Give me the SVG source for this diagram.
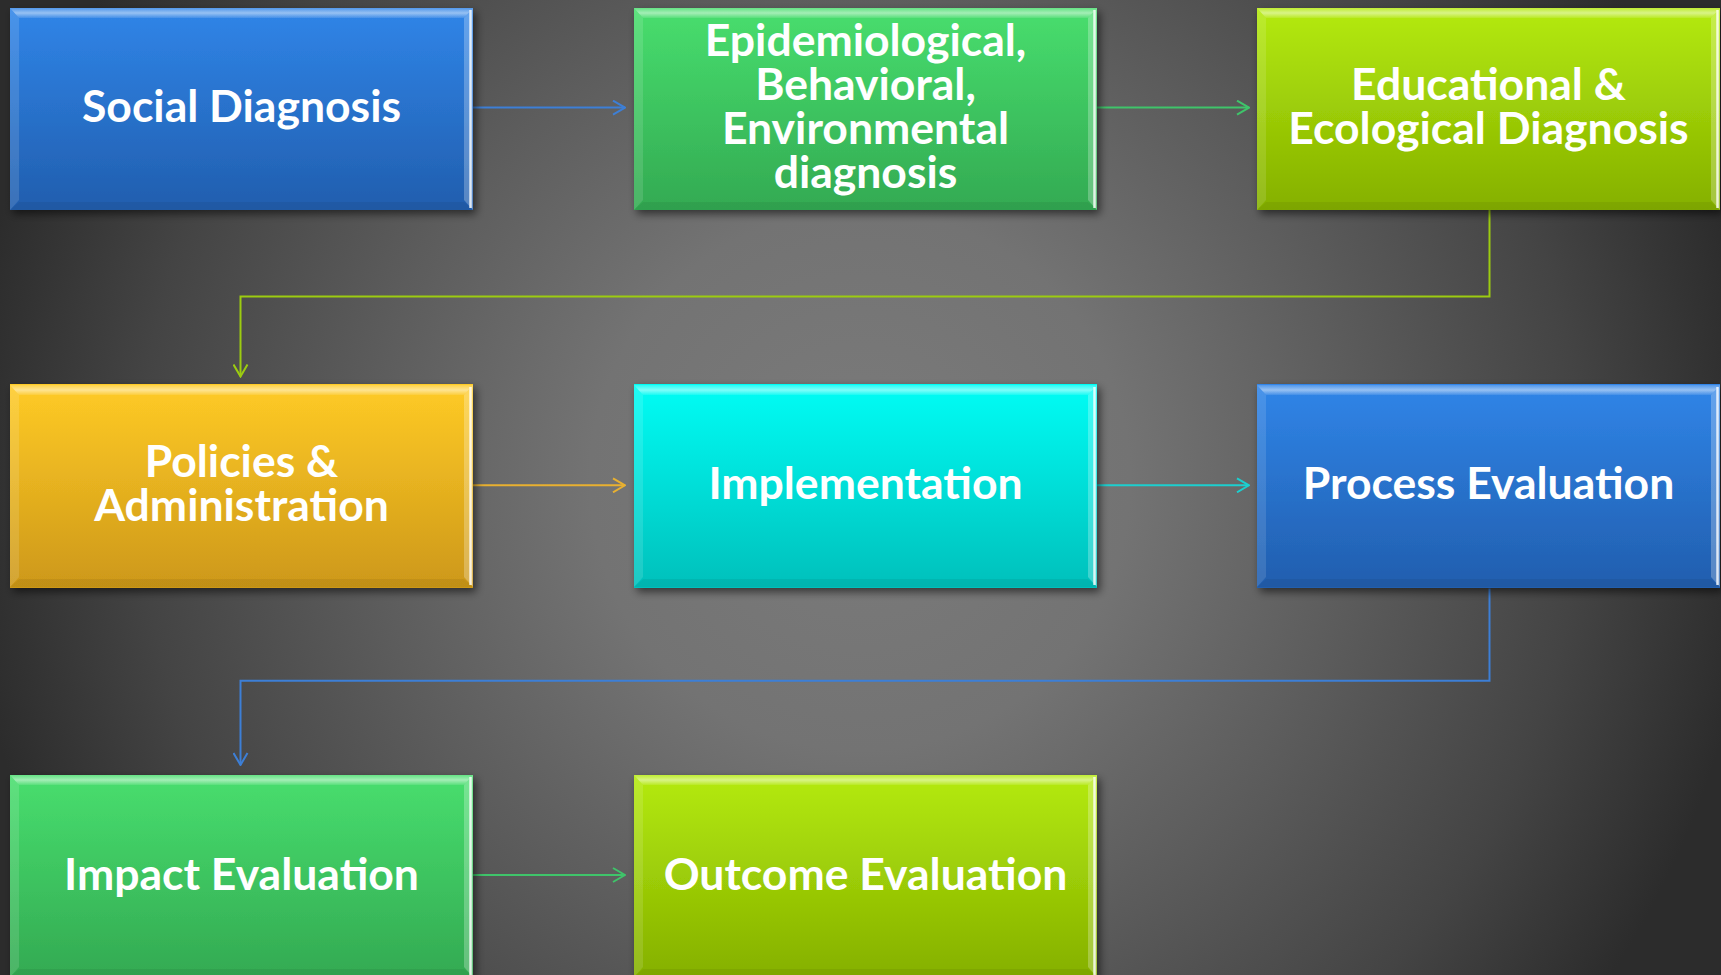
<svg xmlns="http://www.w3.org/2000/svg" xmlns:xlink="http://www.w3.org/1999/xlink" width="1721" height="975" viewBox="0 0 1721 975">
<style>
.lbl{font-family:"Lato","Noto Sans","Liberation Sans",sans-serif;font-weight:700;font-size:44.5px;fill:#ffffff;text-anchor:middle}
.con{fill:none;stroke-width:2}
</style>
<defs>
<radialGradient id="bg" gradientUnits="userSpaceOnUse" cx="860" cy="480" r="900">
<stop offset="0" stop-color="#7b7b7b"/>
<stop offset="0.3" stop-color="#737373"/>
<stop offset="0.55" stop-color="#5c5c5c"/>
<stop offset="0.8" stop-color="#444444"/>
<stop offset="1" stop-color="#2c2c2c"/>
</radialGradient>
<linearGradient id="gBlue" x1="0" y1="0" x2="0" y2="1"><stop offset="0" stop-color="#3085e8"/><stop offset="1" stop-color="#215eae"/></linearGradient>
<linearGradient id="gGreen" x1="0" y1="0" x2="0" y2="1"><stop offset="0" stop-color="#48de6e"/><stop offset="1" stop-color="#33aa52"/></linearGradient>
<linearGradient id="gLime" x1="0" y1="0" x2="0" y2="1"><stop offset="0" stop-color="#b4ea0e"/><stop offset="1" stop-color="#85b000"/></linearGradient>
<linearGradient id="gOrange" x1="0" y1="0" x2="0" y2="1"><stop offset="0" stop-color="#ffcb26"/><stop offset="1" stop-color="#cd9819"/></linearGradient>
<linearGradient id="gCyan" x1="0" y1="0" x2="0" y2="1"><stop offset="0" stop-color="#00fdf5"/><stop offset="1" stop-color="#00c0bb"/></linearGradient>
<linearGradient id="topHi" x1="0" y1="0" x2="0" y2="1"><stop offset="0" stop-color="#ffffff" stop-opacity="0.15"/><stop offset="0.5" stop-color="#ffffff" stop-opacity="0.5"/><stop offset="1" stop-color="#ffffff" stop-opacity="0.1"/></linearGradient>
<filter id="sh" x="-10%" y="-10%" width="120%" height="130%">
<feDropShadow dx="3" dy="4" stdDeviation="4" flood-color="#000000" flood-opacity="0.55"/>
</filter>
<g id="bevel">
<polygon points="0,0 463,0 454,10 9,10" fill="url(#topHi)"/>
<polygon points="0,0 9,10 9,192 0,202" fill="#ffffff" fill-opacity="0.12"/>
<polygon points="463,0 463,202 454,192 454,10" fill="#ffffff" fill-opacity="0.25"/>
<polygon points="0,202 463,202 454,194 9,194" fill="#000000" fill-opacity="0.06"/>
<line x1="460.5" y1="2" x2="460.5" y2="200" stroke="#ffffff" stroke-opacity="0.8" stroke-width="2.5"/>
</g>
<marker id="mBlue" viewBox="0 0 14 16" markerWidth="14" markerHeight="16" refX="13" refY="8" orient="auto" markerUnits="userSpaceOnUse"><path d="M1,1 L13,8 L1,15" fill="none" stroke="#3d7fd6" stroke-width="2"/></marker>
<marker id="mGreen" viewBox="0 0 14 16" markerWidth="14" markerHeight="16" refX="13" refY="8" orient="auto" markerUnits="userSpaceOnUse"><path d="M1,1 L13,8 L1,15" fill="none" stroke="#3fc46a" stroke-width="2"/></marker>
<marker id="mLime" viewBox="0 0 14 16" markerWidth="14" markerHeight="16" refX="13" refY="8" orient="auto" markerUnits="userSpaceOnUse"><path d="M1,1 L13,8 L1,15" fill="none" stroke="#9ccc10" stroke-width="2"/></marker>
<marker id="mOrange" viewBox="0 0 14 16" markerWidth="14" markerHeight="16" refX="13" refY="8" orient="auto" markerUnits="userSpaceOnUse"><path d="M1,1 L13,8 L1,15" fill="none" stroke="#e8b030" stroke-width="2"/></marker>
<marker id="mCyan" viewBox="0 0 14 16" markerWidth="14" markerHeight="16" refX="13" refY="8" orient="auto" markerUnits="userSpaceOnUse"><path d="M1,1 L13,8 L1,15" fill="none" stroke="#1ccfcf" stroke-width="2"/></marker>
</defs>
<rect x="0" y="0" width="1721" height="975" fill="url(#bg)"/>

<g id="connectors">
<path class="con" d="M473,107.6 H625" stroke="#3d7fd6" marker-end="url(#mBlue)"/>
<path class="con" d="M1097,107.6 H1249" stroke="#3fc46a" marker-end="url(#mGreen)"/>
<path class="con" d="M1489.5,210 V296.5 H240.5 V376.5" stroke="#9ccc10" marker-end="url(#mLime)"/>
<path class="con" d="M473,485.3 H625" stroke="#e8b030" marker-end="url(#mOrange)"/>
<path class="con" d="M1097,485.3 H1249" stroke="#1ccfcf" marker-end="url(#mCyan)"/>
<path class="con" d="M1489.5,588.5 V680.7 H240.5 V765" stroke="#3d7fd6" marker-end="url(#mBlue)"/>
<path class="con" d="M473,875 H625" stroke="#3fc46a" marker-end="url(#mGreen)"/>
</g>

<g id="social">
<rect x="10" y="8" width="463" height="202" fill="url(#gBlue)" filter="url(#sh)"/>
<use xlink:href="#bevel" x="10" y="8"/>
<text class="lbl" x="241.5" y="121.5">Social Diagnosis</text>
</g>
<g id="epidemiological">
<rect x="634" y="8" width="463" height="202" fill="url(#gGreen)" filter="url(#sh)"/>
<use xlink:href="#bevel" x="634" y="8"/>
<text class="lbl" x="865.5" y="55.6">Epidemiological,<tspan x="865.5" dy="44">Behavioral,</tspan><tspan x="865.5" dy="44">Environmental</tspan><tspan x="865.5" dy="44">diagnosis</tspan></text>
</g>
<g id="educational">
<rect x="1257" y="8" width="463" height="202" fill="url(#gLime)" filter="url(#sh)"/>
<use xlink:href="#bevel" x="1257" y="8"/>
<text class="lbl" x="1488.5" y="99.5">Educational &amp;<tspan x="1488.5" dy="44">Ecological Diagnosis</tspan></text>
</g>
<g id="policies">
<rect x="10" y="384" width="463" height="204" fill="url(#gOrange)" filter="url(#sh)"/>
<use xlink:href="#bevel" x="10" y="385"/>
<text class="lbl" x="241.5" y="477">Policies &amp;<tspan x="241.5" dy="44">Administration</tspan></text>
</g>
<g id="implementation">
<rect x="634" y="384" width="463" height="204" fill="url(#gCyan)" filter="url(#sh)"/>
<use xlink:href="#bevel" x="634" y="385"/>
<text class="lbl" x="865.5" y="499">Implementation</text>
</g>
<g id="process">
<rect x="1257" y="384" width="463" height="204" fill="url(#gBlue)" filter="url(#sh)"/>
<use xlink:href="#bevel" x="1257" y="385"/>
<text class="lbl" x="1488.5" y="499">Process Evaluation</text>
</g>
<g id="impact">
<rect x="10" y="775" width="463" height="202" fill="url(#gGreen)" filter="url(#sh)"/>
<use xlink:href="#bevel" x="10" y="775"/>
<text class="lbl" x="241.5" y="890">Impact Evaluation</text>
</g>
<g id="outcome">
<rect x="634" y="775" width="463" height="202" fill="url(#gLime)" filter="url(#sh)"/>
<use xlink:href="#bevel" x="634" y="775"/>
<text class="lbl" x="865.5" y="890">Outcome Evaluation</text>
</g>
</svg>
